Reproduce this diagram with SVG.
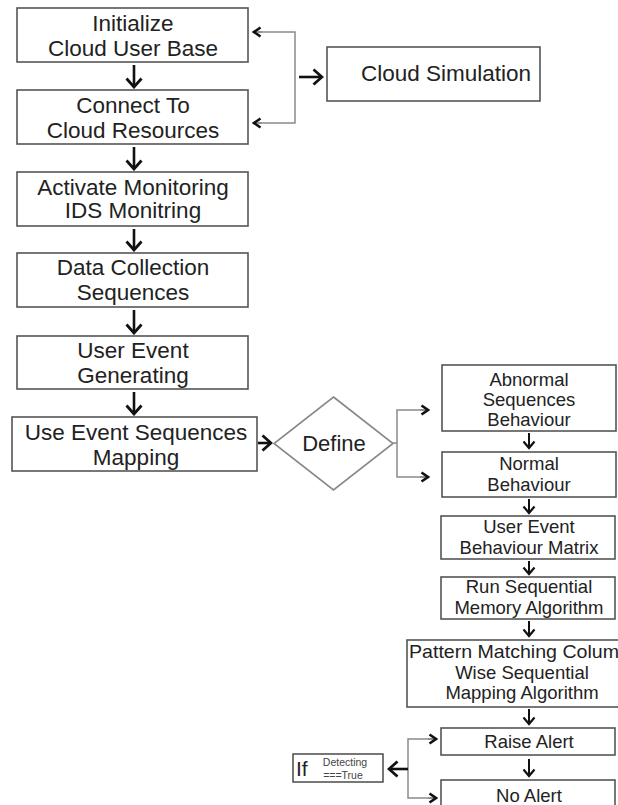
<svg xmlns="http://www.w3.org/2000/svg" width="618" height="805" viewBox="0 0 618 805">
<style>
.box{fill:#fff;stroke:#555;stroke-width:1.6}
.t{font-family:"Liberation Sans",Arial,sans-serif;fill:#222;text-anchor:middle}
.l{font-size:22.5px}
.r{font-size:18.5px}
.arr{stroke:#111;stroke-width:2.6;fill:none}
.sarr{stroke:#111;stroke-width:2;fill:none}
.br{stroke:#8a8a8a;stroke-width:1.5;fill:none}
</style>
<defs>
<marker id="big" markerUnits="userSpaceOnUse" viewBox="0 0 12 18" markerWidth="12" markerHeight="18" refX="10" refY="9" orient="auto">
<path d="M1.5 1.5 L10 9 L1.5 16.5" fill="none" stroke="#111" stroke-width="2.8"/>
</marker>
<marker id="sm" markerUnits="userSpaceOnUse" viewBox="0 0 10 14" markerWidth="10" markerHeight="14" refX="8" refY="7" orient="auto">
<path d="M1.5 1.5 L8 7 L1.5 12.5" fill="none" stroke="#111" stroke-width="2.2"/>
</marker>
<marker id="ch" markerUnits="userSpaceOnUse" viewBox="0 0 10 12" markerWidth="10" markerHeight="12" refX="8" refY="6" orient="auto">
<path d="M1.5 1.5 L8 6 L1.5 10.5" fill="none" stroke="#111" stroke-width="2.6"/>
</marker>
</defs>

<g id="connectors">
<line class="arr" x1="134" y1="65" x2="134" y2="87" marker-end="url(#big)"/>
<line class="arr" x1="134" y1="147" x2="134" y2="169" marker-end="url(#big)"/>
<line class="arr" x1="134" y1="229" x2="134" y2="250" marker-end="url(#big)"/>
<line class="arr" x1="134" y1="310" x2="134" y2="333" marker-end="url(#big)"/>
<line class="arr" x1="134" y1="392" x2="134" y2="414" marker-end="url(#big)"/>
<path class="br" d="M258 32 H295 V123 H258"/>
<line class="br" x1="262" y1="32" x2="254" y2="32" marker-end="url(#ch)"/>
<line class="br" x1="262" y1="123" x2="254" y2="123" marker-end="url(#ch)"/>
<line class="arr" x1="299" y1="77" x2="322" y2="77" marker-end="url(#big)"/>
<line class="arr" x1="258" y1="443" x2="271" y2="443" marker-end="url(#big)"/>
<path class="br" d="M393 443 H397 V410 H427 M397 443 V477 H427"/>
<line class="br" x1="420" y1="410" x2="428" y2="410" marker-end="url(#ch)"/>
<line class="br" x1="420" y1="477" x2="428" y2="477" marker-end="url(#ch)"/>
<line class="sarr" x1="529" y1="433" x2="529" y2="448" marker-end="url(#sm)"/>
<line class="sarr" x1="529" y1="499" x2="529" y2="513" marker-end="url(#sm)"/>
<line class="sarr" x1="529" y1="561" x2="529" y2="574" marker-end="url(#sm)"/>
<line class="sarr" x1="529" y1="621" x2="529" y2="636" marker-end="url(#sm)"/>
<line class="sarr" x1="529" y1="709" x2="529" y2="724" marker-end="url(#sm)"/>
<line class="sarr" x1="529" y1="759" x2="529" y2="776" marker-end="url(#sm)"/>
<path class="br" d="M434 739 H408 V798 H434"/>
<line class="br" x1="428" y1="739" x2="436" y2="739" marker-end="url(#ch)"/>
<line class="br" x1="428" y1="798" x2="436" y2="798" marker-end="url(#ch)"/>
<line class="arr" x1="408" y1="769" x2="389" y2="769" marker-end="url(#big)"/>
</g>

<g id="n1"><rect class="box" x="17" y="8" width="231" height="54"/>
<text class="t l" x="133" y="31">Initialize</text><text class="t l" x="133" y="56">Cloud User Base</text></g>
<g id="n2"><rect class="box" x="17" y="90" width="231" height="54"/>
<text class="t l" x="133" y="113">Connect To</text><text class="t l" x="133" y="138">Cloud Resources</text></g>
<g id="n3"><rect class="box" x="17" y="172" width="231" height="54"/>
<text class="t l" x="133" y="195">Activate Monitoring</text><text class="t l" x="133" y="218">IDS Monitring</text></g>
<g id="n4"><rect class="box" x="17" y="253" width="231" height="54"/>
<text class="t l" x="133" y="275">Data Collection</text><text class="t l" x="133" y="300">Sequences</text></g>
<g id="n5"><rect class="box" x="17" y="336" width="231" height="53"/>
<text class="t l" x="133" y="358">User Event</text><text class="t l" x="133" y="383">Generating</text></g>
<g id="n6"><rect class="box" x="12" y="417" width="245" height="54"/>
<text class="t l" x="136" y="440">Use Event Sequences</text><text class="t l" x="136" y="465">Mapping</text></g>
<g id="cloudsim"><rect class="box" x="327" y="47" width="213" height="54"/>
<text class="t l" x="446" y="81">Cloud Simulation</text></g>
<g id="define"><polygon class="box" points="333.5,397 393,443.5 333.5,490 274,443.5" style="stroke:#888"/>
<text class="t" x="334" y="451" font-size="22">Define</text></g>
<g id="abnormal"><rect class="box" x="442" y="365" width="174" height="66"/>
<text class="t r" x="529" y="386">Abnormal</text><text class="t r" x="529" y="406">Sequences</text><text class="t r" x="529" y="426">Behaviour</text></g>
<g id="normal"><rect class="box" x="442" y="452" width="174" height="45"/>
<text class="t r" x="529" y="470">Normal</text><text class="t r" x="529" y="491">Behaviour</text></g>
<g id="uebm"><rect class="box" x="441" y="516" width="174" height="43"/>
<text class="t r" x="529" y="533">User Event</text><text class="t r" x="529" y="554">Behaviour Matrix</text></g>
<g id="rsm"><rect class="box" x="441" y="577" width="174" height="42"/>
<text class="t r" x="529" y="593">Run Sequential</text><text class="t r" x="529" y="614">Memory Algorithm</text></g>
<g id="pattern"><rect class="box" x="407" y="640" width="230" height="67"/>
<text class="t r" x="409" y="658" style="text-anchor:start" textLength="210" lengthAdjust="spacingAndGlyphs">Pattern Matching Colum</text>
<text class="t r" x="522" y="679">Wise Sequential</text><text class="t r" x="522" y="699">Mapping Algorithm</text></g>
<g id="raise"><rect class="box" x="441" y="728" width="174" height="27"/>
<text class="t r" x="529" y="748">Raise Alert</text></g>
<g id="noalert"><rect class="box" x="441" y="780" width="174" height="40"/>
<text class="t r" x="529" y="802">No Alert</text></g>
<g id="ifbox"><rect class="box" x="293" y="754" width="90" height="28"/>
<text class="t" x="296" y="776" font-size="21" style="text-anchor:start">If</text>
<text class="t" x="345" y="766" font-size="10.5" style="fill:#444">Detecting</text>
<text class="t" x="343" y="779" font-size="10.5" style="fill:#444">===True</text></g>
</svg>
